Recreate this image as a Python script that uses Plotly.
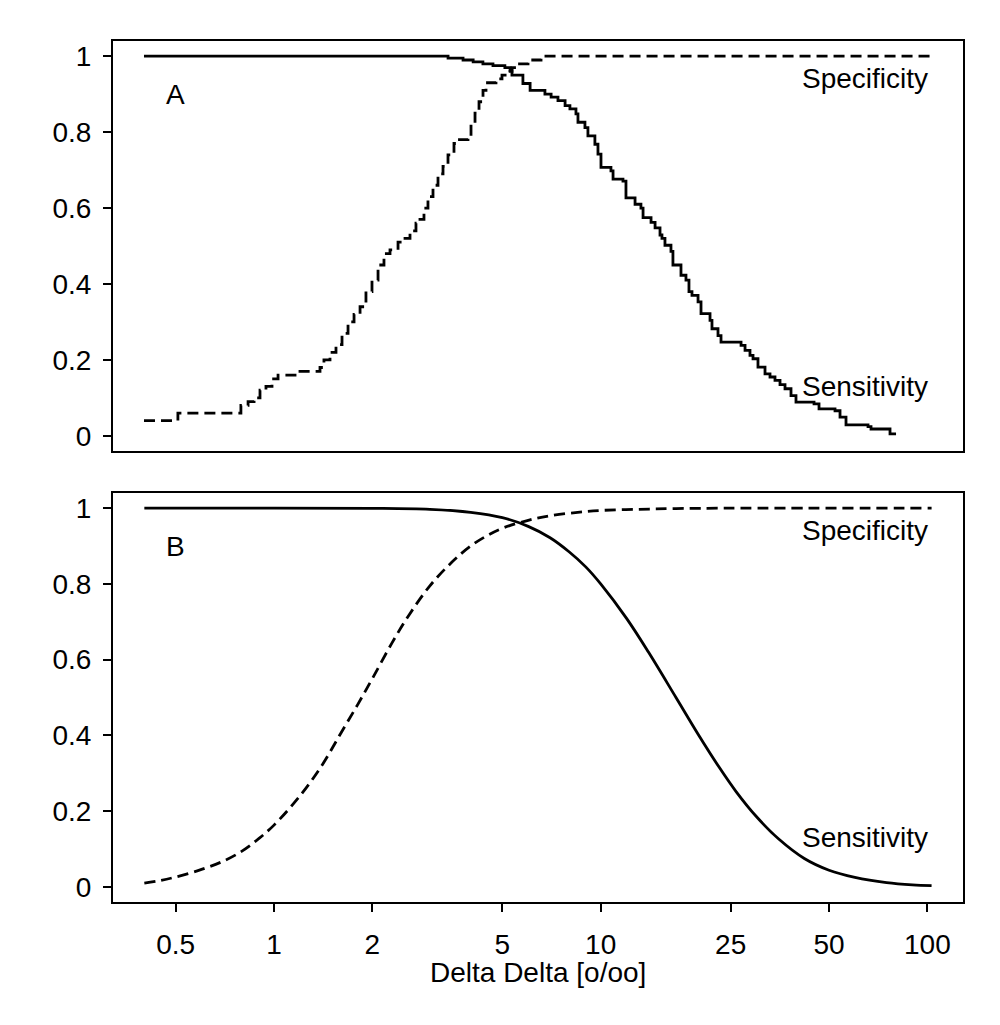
import math
import plotly.graph_objects as go

# ---------------- data ----------------
# Panel A (empirical, step functions)
sens_A_x = [0.400, 3.41, 3.79, 4.07, 4.36, 4.68, 5.09, 5.28, 5.35, 5.78, 6.08, 6.75, 7.05, 7.40, 7.78,
            8.05, 8.40, 8.52, 8.95, 9.14, 9.60, 9.81, 10.02, 10.75, 10.91, 11.70, 11.95, 12.74, 13.28,
            13.48, 14.26, 14.67, 15.19, 15.40, 15.73, 16.41, 16.64, 17.61, 18.24, 18.63, 19.03, 19.86,
            20.28, 21.61, 21.91, 22.86, 23.35, 26.89, 27.66, 28.64, 29.26, 30.30, 31.84, 32.98, 34.16,
            35.39, 36.66, 38.24, 39.61, 44.98, 46.59, 52.15, 54.02, 56.35, 65.80, 67.21, 76.84, 80.17]
sens_A_y = [1.0, 0.995, 0.99, 0.985, 0.98, 0.975, 0.97, 0.962, 0.95, 0.928, 0.91, 0.90, 0.892, 0.883, 0.87,
            0.861, 0.848, 0.826, 0.812, 0.79, 0.768, 0.742, 0.707, 0.698, 0.676, 0.671, 0.627, 0.61, 0.60,
            0.575, 0.562, 0.548, 0.529, 0.52, 0.502, 0.486, 0.45, 0.423, 0.41, 0.38, 0.37, 0.353,
            0.322, 0.304, 0.282, 0.264, 0.247, 0.238, 0.225, 0.212, 0.203, 0.181, 0.163, 0.155, 0.146,
            0.135, 0.124, 0.106, 0.089, 0.084, 0.071, 0.066, 0.049, 0.029, 0.024, 0.018, 0.005, 0.005]

spec_A_x = [0.400, 0.508, 0.792, 0.833, 0.869, 0.906, 0.945, 0.986, 1.029, 1.201, 1.383, 1.422, 1.484,
            1.548, 1.615, 1.685, 1.758, 1.834, 1.912, 1.995, 2.082, 2.171, 2.265, 2.397, 2.518, 2.608,
            2.720, 2.798, 2.878, 2.960, 3.067, 3.177, 3.291, 3.409, 3.556, 3.658, 3.925, 4.009, 4.124,
            4.242, 4.363, 4.456, 4.781, 4.987, 5.203, 5.352, 5.505, 5.992, 6.567, 102.6]
spec_A_y = [0.04, 0.06, 0.08, 0.09, 0.10, 0.12, 0.13, 0.15, 0.16, 0.17, 0.18, 0.20, 0.22,
            0.24, 0.27, 0.30, 0.32, 0.34, 0.38, 0.41, 0.45, 0.48, 0.49, 0.51, 0.52, 0.54,
            0.56, 0.57, 0.60, 0.63, 0.66, 0.69, 0.71, 0.74, 0.77, 0.78, 0.79, 0.82, 0.85,
            0.88, 0.91, 0.93, 0.94, 0.95, 0.96, 0.97, 0.98, 0.99, 1.0, 1.0]

# Panel B (fitted, smooth curves)
sens_B_x = [0.401, 1.0, 2.0, 3.0, 4.0, 5.0, 6.0, 7.0, 8.0, 9.0, 10.0, 12.0, 14.0, 17.0, 20.0, 23.0,
            26.0, 30.0, 35.0, 42.0, 50.0, 60.0, 75.0, 90.0, 103.0]
sens_B_y = [1.0, 1.0, 0.9997, 0.997, 0.989, 0.975, 0.952, 0.922, 0.885, 0.845, 0.80, 0.709, 0.62, 0.50,
            0.399, 0.317, 0.251, 0.185, 0.127, 0.075, 0.044, 0.025, 0.011, 0.005, 0.003]

spec_B_x = [0.401, 0.45, 0.5, 0.6, 0.7, 0.8, 0.9, 1.0, 1.2, 1.4, 1.6, 1.8, 2.0, 2.3, 2.6, 3.0, 3.5,
            4.0, 4.5, 5.0, 6.0, 7.0, 8.5, 10.0, 13.0, 17.0, 25.0, 103.0]
spec_B_y = [0.010, 0.017, 0.026, 0.046, 0.068, 0.095, 0.128, 0.163, 0.24, 0.32, 0.405, 0.48, 0.55,
            0.645, 0.72, 0.795, 0.857, 0.90, 0.928, 0.947, 0.968, 0.98, 0.989, 0.994, 0.997, 0.999,
            1.0, 1.0]

x_tick_vals = [0.5, 1, 2, 5, 10, 25, 50, 100]
x_tick_text = ["0.5", "1", "2", "5", "10", "25", "50", "100"]
y_tick_vals = [0, 0.2, 0.4, 0.6, 0.8, 1]
y_tick_text = ["0", "0.2", "0.4", "0.6", "0.8", "1"]
panel_labels = ["A", "B"]
curve_labels = ["Specificity", "Sensitivity"]
x_title = "Delta Delta [o/oo]"

# ---------------- figure ----------------
FONT = "Liberation Sans, Arial, Helvetica, sans-serif"
LW = 2.8
DASH = "11px,6px"

fig = go.Figure()
fig.add_trace(go.Scatter(x=sens_A_x, y=sens_A_y, mode="lines", line_shape="hv",
                         line=dict(color="black", width=LW), xaxis="x", yaxis="y", showlegend=False))
fig.add_trace(go.Scatter(x=spec_A_x, y=spec_A_y, mode="lines", line_shape="hv",
                         line=dict(color="black", width=LW, dash=DASH), xaxis="x", yaxis="y", showlegend=False))
fig.add_trace(go.Scatter(x=sens_B_x, y=sens_B_y, mode="lines", line_shape="spline",
                         line=dict(color="black", width=LW, smoothing=1.0), xaxis="x2", yaxis="y2", showlegend=False))
fig.add_trace(go.Scatter(x=spec_B_x, y=spec_B_y, mode="lines", line_shape="spline",
                         line=dict(color="black", width=LW, dash=DASH, smoothing=1.0), xaxis="x2", yaxis="y2", showlegend=False))

xrange = [-0.4928, 2.109]
yrange = [-0.04, 1.04]
tickfont = dict(family=FONT, size=28, color="black")

common_x = dict(type="log", range=xrange, showline=True, mirror=True, linecolor="black",
                linewidth=2, showgrid=False, zeroline=False)
common_y = dict(range=yrange, showline=True, mirror=True, linecolor="black", linewidth=2,
                showgrid=False, zeroline=False, tickvals=y_tick_vals, ticktext=y_tick_text,
                ticks="outside", ticklen=8, tickwidth=2, tickcolor="black", tickfont=tickfont,
                ticklabelstandoff=6)

fig.update_layout(
    width=1000, height=1025,
    margin=dict(l=105, r=45, t=33, b=131),
    paper_bgcolor="white", plot_bgcolor="white",
    xaxis=dict(**common_x, anchor="y", showticklabels=False, ticks=""),
    yaxis=dict(**common_y, anchor="x", domain=[0.5238, 1.0]),
    xaxis2=dict(**common_x, anchor="y2", tickvals=x_tick_vals, ticktext=x_tick_text,
                ticks="outside", ticklen=8, tickwidth=2, tickcolor="black", tickfont=tickfont,
                ticklabelstandoff=8),
    yaxis2=dict(**common_y, anchor="x2", domain=[0.0, 0.475]),
)

lab_font = dict(family=FONT, size=28, color="black")
for i, (xr, yr) in enumerate([("x", "y"), ("x2", "y2")]):
    fig.add_annotation(x=math.log10(0.5), y=0.9, xref=xr, yref=yr, text=panel_labels[i],
                       showarrow=False, font=lab_font, xanchor="center", yanchor="middle")
    fig.add_annotation(x=2.008, y=0.94, xref=xr, yref=yr, text=curve_labels[0],
                       showarrow=False, font=lab_font, xanchor="right", yanchor="middle")
    fig.add_annotation(x=2.008, y=0.13, xref=xr, yref=yr, text=curve_labels[1],
                       showarrow=False, font=lab_font, xanchor="right", yanchor="middle")

fig.add_annotation(x=0.5, y=-0.082, xref="paper", yref="paper", text=x_title, showarrow=False,
                   font=lab_font, xanchor="center", yanchor="middle")

fig.write_html("out.html")
